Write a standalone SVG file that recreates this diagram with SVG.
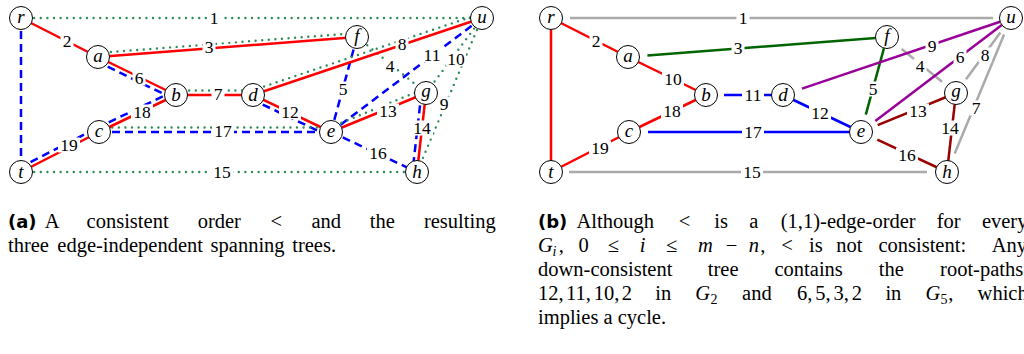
<svg xmlns="http://www.w3.org/2000/svg" width="1024" height="354" viewBox="0 0 1024 354">
<style>
.e{fill:none;stroke-width:2.5}
.red{stroke:#ff0000}
.bd{stroke:#0000ff;stroke-dasharray:8 5}
.gd{stroke:#2e8b57;stroke-width:2.4;stroke-dasharray:0 6.6;stroke-linecap:round}
.blue{stroke:#0000ff}
.gray{stroke:#aaaaaa}
.dg{stroke:#006400}
.pu{stroke:#990099}
.dr{stroke:#990000}
.n circle{fill:#fff;stroke:#000;stroke-width:1}
.n text{font-family:"Liberation Serif",serif;font-style:italic;font-size:19px;text-anchor:middle}
.lbl rect{fill:#fff}
.lbl text{font-family:"Liberation Serif",serif;font-size:17.5px;text-anchor:middle}
.cap{font-family:"Liberation Serif",serif;font-size:20.5px;fill:#000}
.bf{font-family:"DejaVu Sans",sans-serif;font-weight:bold;font-size:18px}
.it{font-style:italic}
.sub{font-size:14px;font-style:italic}
.sr{font-size:14px}
</style>

<!-- ===== Panel (a) ===== -->
<g id="edges-a">
<line class="e gd" x1="21" y1="18" x2="482" y2="18"/>
<line class="e red" x1="21" y1="18" x2="98" y2="57"/>
<line class="e bd" x1="21" y1="18" x2="21" y2="172"/>
<line class="e red" x1="98" y1="57" x2="357" y2="37"/>
<line class="e gd" x1="97.7" y1="53" x2="356.7" y2="33"/>
<line class="e gd" x1="357" y1="37" x2="426" y2="93"/>
<line class="e bd" x1="357" y1="37" x2="331" y2="132"/>
<line class="e red" x1="98" y1="57" x2="176" y2="95"/>
<line class="e bd" x1="96" y1="61" x2="174" y2="99"/>
<line class="e red" x1="176" y1="95" x2="253" y2="95"/>
<line class="e gd" x1="176" y1="90.5" x2="253" y2="90.5"/>
<line class="e red" x1="253" y1="95" x2="482" y2="18"/>
<line class="e gd" x1="251.6" y1="90.7" x2="480.6" y2="13.7"/>
<line class="e gd" x1="482" y1="18" x2="417" y2="172"/>
<line class="e gd" x1="482" y1="18" x2="426" y2="93"/>
<line class="e bd" x1="482" y1="18" x2="331" y2="132"/>
<line class="e red" x1="253" y1="95" x2="331" y2="132"/>
<line class="e bd" x1="251" y1="99" x2="329" y2="136"/>
<line class="e red" x1="331" y1="132" x2="426" y2="93"/>
<line class="e gd" x1="329.3" y1="127.8" x2="424.3" y2="88.8"/>
<line class="e red" x1="426" y1="93" x2="417" y2="172"/>
<line class="e bd" x1="421.5" y1="92.5" x2="412.5" y2="171.5"/>
<line class="e gd" x1="21" y1="172" x2="417" y2="172"/>
<line class="e bd" x1="331" y1="132" x2="417" y2="172"/>
<line class="e bd" x1="99" y1="132" x2="331" y2="132"/>
<line class="e gd" x1="99" y1="127.5" x2="331" y2="127.5"/>
<line class="e red" x1="99" y1="132" x2="176" y2="95"/>
<line class="e bd" x1="97" y1="128" x2="174" y2="91"/>
<line class="e red" x1="21" y1="172" x2="99" y2="132"/>
<line class="e bd" x1="19" y1="168" x2="97" y2="128"/>
</g>
<g id="labels-a" class="lbl">
<g transform="translate(214,18)"><rect x="-6.5" y="-7.5" width="13" height="15"/><text y="6">1</text></g>
<g transform="translate(67,41)"><rect x="-6.5" y="-7.5" width="13" height="15"/><text y="6">2</text></g>
<g transform="translate(209,47)"><rect x="-6.5" y="-7.5" width="13" height="15"/><text y="6">3</text></g>
<g transform="translate(390,66)"><rect x="-6.5" y="-7.5" width="13" height="15"/><text y="6">4</text></g>
<g transform="translate(343,89)"><rect x="-6.5" y="-7.5" width="13" height="15"/><text y="6">5</text></g>
<g transform="translate(139,78)"><rect x="-6.5" y="-7.5" width="13" height="15"/><text y="6">6</text></g>
<g transform="translate(218,94)"><rect x="-6.5" y="-7.5" width="13" height="15"/><text y="6">7</text></g>
<g transform="translate(402,44)"><rect x="-6.5" y="-7.5" width="13" height="15"/><text y="6">8</text></g>
<g transform="translate(444,104)"><rect x="-6.5" y="-7.5" width="13" height="15"/><text y="6">9</text></g>
<g transform="translate(456,59)"><rect x="-10" y="-7.5" width="20" height="15"/><text y="6">10</text></g>
<g transform="translate(432,55)"><rect x="-11" y="-7.5" width="22" height="15"/><text y="6">11</text></g>
<g transform="translate(290,112)"><rect x="-11" y="-7.5" width="22" height="15"/><text y="6">12</text></g>
<g transform="translate(388,111)"><rect x="-11" y="-7.5" width="22" height="15"/><text y="6">13</text></g>
<g transform="translate(422,128)"><rect x="-11" y="-7.5" width="22" height="15"/><text y="6">14</text></g>
<g transform="translate(222,172)"><rect x="-11" y="-7.5" width="22" height="15"/><text y="6">15</text></g>
<g transform="translate(378,153)"><rect x="-11" y="-7.5" width="22" height="15"/><text y="6">16</text></g>
<g transform="translate(223,131)"><rect x="-11" y="-7.5" width="22" height="15"/><text y="6">17</text></g>
<g transform="translate(142,112)"><rect x="-11" y="-7.5" width="22" height="15"/><text y="6">18</text></g>
<g transform="translate(69,145)"><rect x="-11" y="-7.5" width="22" height="15"/><text y="6">19</text></g>
</g>
<g id="a-r" class="n"><circle cx="21" cy="18" r="11.5"/><text x="21" y="23">r</text></g>
<g id="a-a" class="n"><circle cx="98" cy="57" r="11.5"/><text x="98" y="62">a</text></g>
<g id="a-b" class="n"><circle cx="176" cy="95" r="11.5"/><text x="176" y="101">b</text></g>
<g id="a-d" class="n"><circle cx="253" cy="95" r="11.5"/><text x="253" y="101">d</text></g>
<g id="a-f" class="n"><circle cx="357" cy="37" r="11.5"/><text x="357" y="41.5">f</text></g>
<g id="a-u" class="n"><circle cx="482" cy="18" r="11.5"/><text x="482" y="23">u</text></g>
<g id="a-g" class="n"><circle cx="426" cy="93" r="11.5"/><text x="426" y="96.5">g</text></g>
<g id="a-c" class="n"><circle cx="99" cy="132" r="11.5"/><text x="99" y="137">c</text></g>
<g id="a-e" class="n"><circle cx="331" cy="132" r="11.5"/><text x="331" y="137">e</text></g>
<g id="a-t" class="n"><circle cx="21" cy="172" r="11.5"/><text x="21" y="177.5">t</text></g>
<g id="a-h" class="n"><circle cx="417" cy="172" r="11.5"/><text x="417" y="178">h</text></g>

<!-- ===== Panel (b) ===== -->
<g id="edges-b">
<line class="e gray" x1="570" y1="18" x2="993" y2="18"/>
<line class="e red" x1="551" y1="18" x2="628" y2="57"/>
<line class="e red" x1="551" y1="18" x2="551" y2="172"/>
<line class="e dg" x1="647.4" y1="55.5" x2="875.5" y2="37.9"/>
<line class="e gray" x1="901.7" y1="49" x2="942" y2="81.7"/>
<line class="e dg" x1="884" y1="48.1" x2="865.8" y2="114.6"/>
<line class="e pu" x1="1001.8" y1="25" x2="875.3" y2="121.1"/>
<line class="e gray" x1="1004.1" y1="34.6" x2="954.7" y2="153.5"/>
<line class="e gray" x1="1000.4" y1="32.5" x2="966" y2="79.3"/>
<line class="e pu" x1="802" y1="88.6" x2="1000.1" y2="21.7"/>
<line class="e red" x1="628" y1="57" x2="706" y2="95"/>
<line class="e blue" x1="724" y1="95" x2="783" y2="95"/>
<line class="e blue" x1="783" y1="95" x2="861" y2="132"/>
<line class="e dr" x1="877.7" y1="125.2" x2="956" y2="93"/>
<line class="e dr" x1="956" y1="93" x2="947" y2="172"/>
<line class="e gray" x1="569" y1="172" x2="927" y2="172"/>
<line class="e dr" x1="877.3" y1="139.6" x2="947" y2="172"/>
<line class="e blue" x1="648" y1="132" x2="861" y2="132"/>
<line class="e red" x1="629" y1="132" x2="706" y2="95"/>
<line class="e red" x1="551" y1="172" x2="629" y2="132"/>
</g>
<g id="labels-b" class="lbl">
<g transform="translate(743,18)"><rect x="-6.5" y="-7.5" width="13" height="15"/><text y="6">1</text></g>
<g transform="translate(596,41)"><rect x="-6.5" y="-7.5" width="13" height="15"/><text y="6">2</text></g>
<g transform="translate(738,48)"><rect x="-6.5" y="-7.5" width="13" height="15"/><text y="6">3</text></g>
<g transform="translate(920,66)"><rect x="-6.5" y="-7.5" width="13" height="15"/><text y="6">4</text></g>
<g transform="translate(873,89)"><rect x="-6.5" y="-7.5" width="13" height="15"/><text y="6">5</text></g>
<g transform="translate(960,57)"><rect x="-6.5" y="-7.5" width="13" height="15"/><text y="6">6</text></g>
<g transform="translate(976,108)"><rect x="-6.5" y="-7.5" width="13" height="15"/><text y="6">7</text></g>
<g transform="translate(985,55)"><rect x="-6.5" y="-7.5" width="13" height="15"/><text y="6">8</text></g>
<g transform="translate(932,46)"><rect x="-6.5" y="-7.5" width="13" height="15"/><text y="6">9</text></g>
<g transform="translate(673,79)"><rect x="-11" y="-7.5" width="22" height="15"/><text y="6">10</text></g>
<g transform="translate(753,95)"><rect x="-11" y="-7.5" width="22" height="15"/><text y="6">11</text></g>
<g transform="translate(820,113)"><rect x="-11" y="-7.5" width="22" height="15"/><text y="6">12</text></g>
<g transform="translate(918,111)"><rect x="-11" y="-7.5" width="22" height="15"/><text y="6">13</text></g>
<g transform="translate(950,128)"><rect x="-11" y="-7.5" width="22" height="15"/><text y="6">14</text></g>
<g transform="translate(752,172)"><rect x="-11" y="-7.5" width="22" height="15"/><text y="6">15</text></g>
<g transform="translate(907,155)"><rect x="-11" y="-7.5" width="22" height="15"/><text y="6">16</text></g>
<g transform="translate(753,132)"><rect x="-11" y="-7.5" width="22" height="15"/><text y="6">17</text></g>
<g transform="translate(672,111)"><rect x="-11" y="-7.5" width="22" height="15"/><text y="6">18</text></g>
<g transform="translate(600,148)"><rect x="-11" y="-7.5" width="22" height="15"/><text y="6">19</text></g>
</g>
<g id="b-r" class="n"><circle cx="551" cy="18" r="11.5"/><text x="551" y="23">r</text></g>
<g id="b-a" class="n"><circle cx="628" cy="57" r="11.5"/><text x="628" y="62">a</text></g>
<g id="b-b" class="n"><circle cx="706" cy="95" r="11.5"/><text x="706" y="101">b</text></g>
<g id="b-d" class="n"><circle cx="783" cy="95" r="11.5"/><text x="783" y="101">d</text></g>
<g id="b-f" class="n"><circle cx="887" cy="37" r="11.5"/><text x="887" y="41.5">f</text></g>
<g id="b-u" class="n"><circle cx="1011" cy="18" r="11.5"/><text x="1011" y="23">u</text></g>
<g id="b-g" class="n"><circle cx="956" cy="93" r="11.5"/><text x="956" y="96.5">g</text></g>
<g id="b-c" class="n"><circle cx="629" cy="132" r="11.5"/><text x="629" y="137">c</text></g>
<g id="b-e" class="n"><circle cx="861" cy="132" r="11.5"/><text x="861" y="137">e</text></g>
<g id="b-t" class="n"><circle cx="551" cy="172" r="11.5"/><text x="551" y="177.5">t</text></g>
<g id="b-h" class="n"><circle cx="947" cy="172" r="11.5"/><text x="947" y="178">h</text></g>

<!-- ===== Captions ===== -->
<g id="caption-a" class="cap">
<text y="228"><tspan class="bf" x="8">(a)</tspan><tspan x="44.8">A</tspan><tspan x="86.6">consistent</tspan><tspan x="197.7">order</tspan><tspan x="270.5">&lt;</tspan><tspan x="311.4">and</tspan><tspan x="369.8">the</tspan><tspan x="423.9">resulting</tspan></text>
<text y="252"><tspan x="8">three</tspan><tspan x="57.3">edge-independent</tspan><tspan x="210.6">spanning</tspan><tspan x="292.2">trees.</tspan></text>
</g>
<g id="caption-b" class="cap">
<text y="228"><tspan class="bf" x="538">(b)</tspan><tspan x="576.5">Although</tspan><tspan x="678.7">&lt;</tspan><tspan x="714.2">is</tspan><tspan x="749.2">a</tspan><tspan x="780.8">(1,1)-edge-order</tspan><tspan x="936.8">for</tspan><tspan x="981.9">every</tspan></text>
<text y="252"><tspan class="it" x="538">G</tspan><tspan class="sub" x="552.5" y="256">i</tspan><tspan x="558.8" y="252">,</tspan><tspan x="578.4">0</tspan><tspan x="607.8">≤</tspan><tspan class="it" x="639.7">i</tspan><tspan x="666.1">≤</tspan><tspan class="it" x="698">m</tspan><tspan x="725.7">−</tspan><tspan class="it" x="748.7">n</tspan><tspan x="760.3">,</tspan><tspan x="781.3">&lt;</tspan><tspan x="809.1">is</tspan><tspan x="836.3">not</tspan><tspan x="878.4">consistent:</tspan><tspan x="991.7">Any</tspan></text>
<text y="276"><tspan x="538">down-consistent</tspan><tspan x="707.8">tree</tspan><tspan x="774.5">contains</tspan><tspan x="878.8">the</tspan><tspan x="940.1">root-paths</tspan></text>
<text y="300"><tspan x="538">12,</tspan><tspan x="565.9">11,</tspan><tspan x="593.8">10,</tspan><tspan x="621.7">2</tspan><tspan x="655.3">in</tspan><tspan class="it" x="695.3">G</tspan><tspan class="sr" x="710.5" y="304">2</tspan><tspan x="742.1" y="300">and</tspan><tspan x="797.1">6,</tspan><tspan x="815.3">5,</tspan><tspan x="833.6">3,</tspan><tspan x="851.8">2</tspan><tspan x="885.4">in</tspan><tspan class="it" x="925.4">G</tspan><tspan class="sr" x="940.6" y="304">5</tspan><tspan x="948.3" y="300">,</tspan><tspan x="977.6">which</tspan></text>
<text y="324"><tspan x="538">implies a cycle.</tspan></text>
</g>
</svg>
